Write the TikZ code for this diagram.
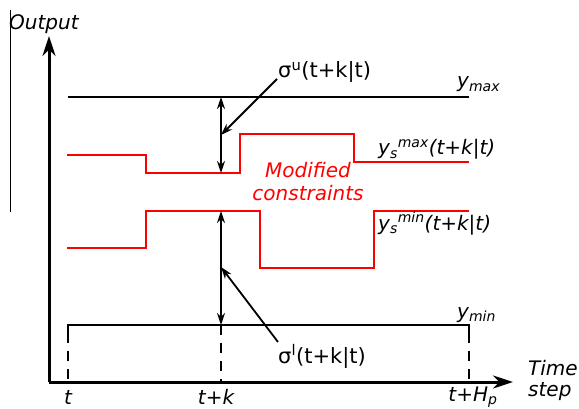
\documentclass[tikz,border=0pt]{standalone}
\usepackage{fontspec}
\setmainfont{DejaVu Sans}
\usetikzlibrary{arrows.meta}

\begin{document}
\begin{tikzpicture}[
  x=1pt, y=-1pt,
  font=\fontsize{20}{23}\selectfont,
  axis/.style  ={line width=3pt, -{Stealth[length=20pt, width=13pt]}},
  bound/.style ={line width=1.8pt},
  soft/.style  ={line width=2pt, red},
  guide/.style ={line width=1.6pt, dash pattern=on 10pt off 8pt},
  sigma/.style ={line width=1.8pt, {Stealth[length=12pt,width=8pt]}-{Stealth[length=12pt,width=8pt]}},
  callout/.style={line width=1.8pt, -{Stealth[length=12pt,width=8pt]}},
  lbl/.style   ={inner sep=0pt, anchor=base west, font=\fontsize{20}{23}\selectfont\itshape}
]
\useasboundingbox (0,0) rectangle (579,409);

% --- axes ---
\coordinate (origin) at (49,382);
\coordinate (ytip)   at (49,36);
\coordinate (xtip)   at (513,382);
\draw[line width=0.8pt] (10,10) coordinate (bar top) -- (10,212) coordinate (bar bot);
\draw[axis] (origin) -- (ytip);
\draw[axis] (origin) -- (xtip);
\node[lbl] (outlbl) at (9,30) {Output};
\node[lbl] (timelbl) at (528,375) {Time};
\node[lbl] (steplbl) at (528,396) {step};

% --- time ticks ---
\node[lbl, anchor=base] (tlbl)  at (68,404)  {t};
\node[lbl, anchor=base] (tklbl) at (216,404) {t+k};
\node[lbl, anchor=base] (thlbl) at (473,401) {t+H\textsubscript{p}};

% --- hard bounds ---
\draw[bound] (68,97) coordinate (ymaxL) -- (469,97) coordinate (ymaxR);
\node[lbl] (ymaxlbl) at (457,88) {y\textsubscript{max}};
\draw[bound] (68,333) coordinate (yminL0) |- (469,325) coordinate (yminR) -- (469,333) coordinate (yminR0);
\node[lbl] (yminlbl) at (457,318) {y\textsubscript{min}};
\draw[guide] (yminL0) -- (origin -| yminL0);
\draw[guide] (yminR0) -- (origin -| yminR0);
\draw[guide] (221,325) coordinate (kmin) -- (origin -| kmin);

% --- modified (soft) constraints ---
\draw[soft] (67,155) -- (146,155) -- (146,173) -- (240,173) -- (240,134)
            -- (354,134) -- (354,162) -- (469,162);
\draw[soft] (67,248) -- (146,248) -- (146,211) -- (260,211) -- (260,268)
            -- (374,268) -- (374,211) -- (469,211);
\node[lbl] (ysmaxlbl) at (378,155) {y\textsubscript{s}\textsuperscript{max}(t+k|t)};
\node[lbl] (ysminlbl) at (378,230) {y\textsubscript{s}\textsuperscript{min}(t+k|t)};
\node[lbl, red, anchor=center, align=center] (modlbl) at (308,182) {Modified\\constraints};

% --- slack variables ---
\coordinate (kmax) at (221,97);
\coordinate (ku)   at (221,173);
\coordinate (kl)   at (221,211);
\draw[sigma] (kmax) -- (ku);
\draw[sigma] (kl) -- (kmin);
\node[anchor=base west, inner sep=0pt, font=\fontsize{21}{24}\selectfont] (sulbl) at (278,78)  {σ\textsuperscript{u}(t+k|t)};
\node[anchor=base west, inner sep=0pt, font=\fontsize{21}{24}\selectfont] (sllbl) at (278,363) {σ\textsuperscript{l}(t+k|t)};
\coordinate (su0) at (277,79);
\coordinate (sl0) at (278,342);
\draw[callout] (su0) -- (221,135);
\draw[callout] (sl0) -- (221,267);

\end{tikzpicture}
\end{document}
